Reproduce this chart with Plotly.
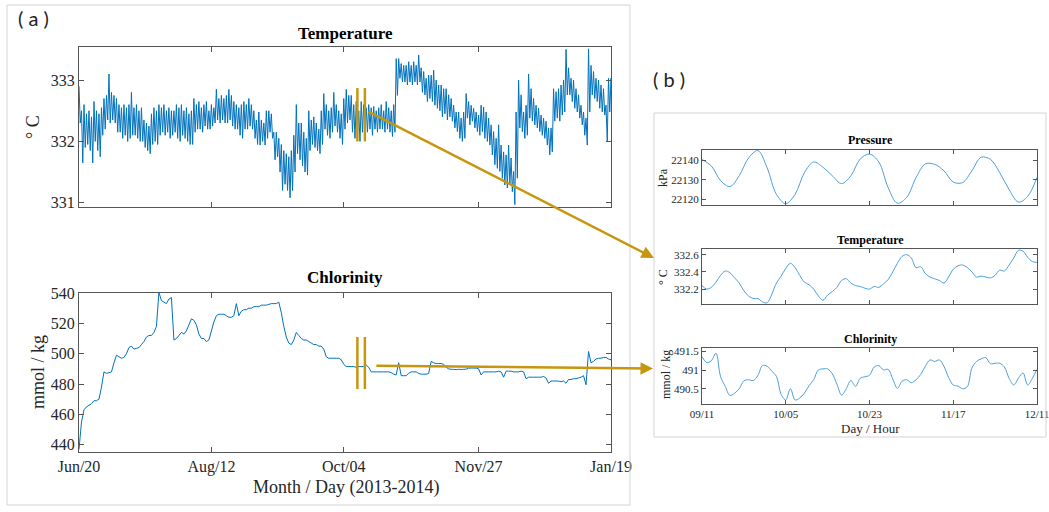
import pandas as pd
import plotly.graph_objects as go

W, H = 1049, 512

# ---------------- data: panel (a), daily records from 2013-06-20 ----------------
series_start = "2013-06-20"
series_end = "2014-01-19"
month_ticks = ["2013-06-20", "2013-08-12", "2013-10-04", "2013-11-27", "2014-01-19"]
month_labels = ["Jun/20", "Aug/12", "Oct/04", "Nov/27", "Jan/19"]

# daily maximum and minimum temperature (deg C)
temp_hi = [
    332.9, 332.5, 332.6, 332.45, 332.5, 332.4, 332.65, 332.5, 332.45, 332.55,
    332.7, 332.75, 333.1, 332.8, 332.75, 332.7, 332.6, 332.55, 332.6, 332.55,
    332.6, 332.8, 332.55, 332.6, 332.5, 332.55, 332.35, 332.3, 332.25, 332.45,
    332.55, 332.5, 332.6, 332.55, 332.6, 332.5, 332.55, 332.5, 332.5, 332.6,
    332.55, 332.6, 332.5, 332.55, 332.45, 332.5, 332.7, 332.6, 332.65, 332.55,
    332.6, 332.65, 332.5, 332.6, 332.55, 332.85, 332.7, 332.75, 332.7, 332.75,
    332.85, 332.75, 332.65, 332.6, 332.55, 332.6, 332.65, 332.6, 332.7, 332.6,
    332.5, 332.35, 332.48, 332.35, 332.3, 332.5, 332.5, 332.45, 332.15, 332.15,
    332.05, 331.95, 331.85, 331.8, 331.75, 331.85, 332.1, 332.6, 332.3, 332.3,
    332.15, 332.05, 332.5, 332.35, 332.4, 332.3, 332.2, 332.5, 332.78, 332.6,
    332.5, 332.55, 332.8, 332.6, 332.5, 332.45, 332.7, 332.85, 332.75, 332.75,
    332.6, 332.65, 332.5, 332.65, 332.6, 332.55, 332.6, 332.55, 332.57, 332.5,
    332.55, 332.6, 332.5, 332.65, 332.55, 332.5, 332.6, 333.35, 333.35, 333.27,
    333.24, 333.24, 333.3, 333.24, 333.3, 333.24, 333.41, 333.2, 333.14, 333.03,
    333.08, 333.08, 333.16, 333.0, 332.92, 332.92, 332.86, 332.86, 332.76, 332.7,
    332.59, 332.48, 332.48, 332.38, 332.48, 332.78, 332.65, 332.59, 332.54, 332.48,
    332.43, 332.59, 332.56, 332.48, 332.38, 332.27, 332.16, 332.05, 332.27, 331.94,
    331.83, 331.78, 331.94, 331.73, 331.51, 332.48, 333.0, 332.76, 332.48, 332.59,
    333.1, 332.86, 332.7, 332.59, 332.54, 332.43, 332.38, 332.33, 332.22, 332.22,
    332.86, 332.81, 332.86, 332.92, 333.0, 333.5, 333.2, 333.03, 333.0, 332.86,
    332.76, 332.59, 332.48, 332.38, 333.51, 333.24, 333.14, 333.03, 333.0, 332.92,
    332.86, 332.59, 333.03, 333.03,
]
temp_lo = [
    332.3, 331.65, 331.9, 331.95, 331.85, 331.65, 332.0, 331.85, 331.75, 332.1,
    332.2, 332.35, 332.3, 332.35, 332.3, 332.15, 332.15, 332.05, 332.1, 332.0,
    332.05, 332.1, 332.1, 332.05, 332.0, 332.0, 331.9, 331.85, 331.8, 331.95,
    332.0, 331.95, 332.1, 332.15, 332.1, 332.15, 332.05, 332.1, 332.15, 332.05,
    332.0, 332.1, 332.05, 332.0, 331.95, 331.95, 332.15, 332.2, 332.2, 332.15,
    332.25, 332.2, 332.2, 332.25, 332.3, 332.35, 332.3, 332.35, 332.3, 332.3,
    332.35, 332.25, 332.2, 332.2, 332.1, 332.05, 332.2, 332.2, 332.25, 332.2,
    332.05, 331.95, 331.94, 332.0, 331.94, 332.05, 332.15, 332.05, 331.7, 331.75,
    331.5, 331.2, 331.3, 331.2, 331.08, 331.2, 331.5, 331.8, 331.7, 331.6,
    331.5, 331.45, 331.85, 331.95, 331.9, 331.85, 331.8, 331.95, 332.2, 332.1,
    332.05, 332.15, 332.25, 332.15, 332.05, 331.95, 332.2, 332.3, 332.35, 332.15,
    332.05, 332.1, 332.0, 332.15, 332.2, 332.15, 332.2, 332.1, 332.2, 332.15,
    332.2, 332.2, 332.15, 332.2, 332.15, 332.08, 332.15, 332.75, 333.03, 332.97,
    332.97, 332.92, 332.97, 332.92, 332.97, 332.92, 332.97, 332.8, 332.76, 332.65,
    332.7, 332.65, 332.59, 332.54, 332.5, 332.4, 332.45, 332.35, 332.4, 332.33,
    332.22, 332.16, 332.05, 332.0, 332.05, 332.38, 332.27, 332.33, 332.22, 332.16,
    332.1, 332.16, 332.05, 332.0, 331.94, 331.78, 331.62, 331.56, 331.51, 331.4,
    331.29, 331.24, 331.29, 331.18, 330.97, 331.4, 332.22, 332.16, 332.05, 332.1,
    332.38, 332.33, 332.27, 332.22, 332.16, 332.1, 332.05, 331.94, 331.78, 331.83,
    332.33, 332.38, 332.33, 332.43, 332.48, 332.76, 332.76, 332.65, 332.54, 332.48,
    332.38, 332.27, 332.1, 331.94, 332.48, 332.76, 332.7, 332.65, 332.54, 332.48,
    332.43, 332.0, 332.48, 332.59,
]
# daily chlorinity (mmol / kg)
chlorinity = [
    437, 455, 463, 465, 466, 467, 469, 469, 470, 478,
    488, 487, 487.5, 488, 494, 499, 498, 497, 497.5, 500,
    504, 505, 503, 503.5, 504, 506, 508, 511, 512, 512,
    514, 518, 540.5, 535, 534, 533, 536, 537, 509, 510,
    512, 514, 513, 515, 519, 523, 522, 519, 513, 510,
    510, 508, 509, 515, 521, 525, 526, 526, 526, 525,
    524, 524, 525, 533, 525, 528, 529, 529, 530, 530,
    531, 531, 531, 532, 532, 532, 532.5, 533, 533, 533,
    534, 527, 518, 511, 507, 506, 509, 514, 512, 510,
    509, 509, 508, 507, 506, 506, 505, 505, 503, 498,
    497, 497, 497, 497, 497, 496, 493, 491.5, 491.5, 491.5,
    491.5, 491, 491.5, 491.5, 491.5, 492.5, 491, 488, 488, 488,
    488, 488, 488, 488, 488, 487.5, 486.5, 486, 494, 485.5,
    485.5, 485.5, 487, 488, 488, 488, 487, 486.5, 486.5, 486.5,
    487, 495, 494, 493.5, 493.5, 493.5, 493, 491, 490, 489.7,
    489.7, 489.5, 489.7, 489.6, 489.7, 489.8, 490.5, 490.5, 490.5, 490.5,
    490, 486, 488, 488, 488, 488, 488, 488, 488.5, 488,
    484.5, 488.5, 488.5, 488.5, 488, 488, 488, 488.5, 488, 483.5,
    484.5, 484.5, 484.5, 484.5, 484.5, 484.5, 485, 484, 480.5, 482,
    482, 482, 482, 481.5, 482, 480.5, 483, 483, 483.5, 483.5,
    484, 484.5, 485.5, 479.5, 501.5, 494, 495, 496.5, 497, 497,
    497.5, 497.5, 496.5, 496,
]

# ---------------- data: panel (b), hourly records from day 09 11:00 ----------------
window_start = "2013-10-09 11:00"
window_hours = 72
hour_ticks = [0, 18, 36, 54, 72]
hour_labels = ["09/11", "10/05", "10/23", "11/17", "12/11"]

pressure_hours = list(range(0, 73, 2))
pressure = [
    22140.3, 22137.0, 22129.5, 22126.5, 22132.0, 22141.0, 22144.8, 22136.0,
    22122.5, 22117.8, 22122.5, 22133.5, 22139.0, 22136.3, 22132.0, 22128.0,
    22132.0, 22140.5, 22143.0, 22139.0, 22126.0, 22118.0, 22121.0, 22131.0,
    22138.0, 22137.8, 22134.5, 22128.8, 22128.5, 22134.5, 22141.4, 22140.3,
    22133.5, 22125.0, 22118.6, 22121.5, 22131.2,
]
pressure_ticks = [22120, 22130, 22140]
hours = list(range(0, 73))
temp_window = [
    332.24, 332.20, 332.22, 332.28, 332.36, 332.41, 332.39, 332.33, 332.27, 332.18,
    332.12, 332.09, 332.09, 332.05, 332.04, 332.14, 332.27, 332.35, 332.44, 332.50,
    332.45, 332.36, 332.28, 332.25, 332.20, 332.12, 332.07, 332.13, 332.17, 332.22,
    332.30, 332.32, 332.27, 332.24, 332.23, 332.21, 332.20, 332.23, 332.22, 332.26,
    332.31, 332.40, 332.50, 332.58, 332.60, 332.56, 332.45, 332.46, 332.38, 332.34,
    332.32, 332.30, 332.27, 332.34, 332.43, 332.47, 332.48, 332.45, 332.40, 332.34,
    332.35, 332.34, 332.33, 332.36, 332.42, 332.41, 332.48, 332.56, 332.65, 332.64,
    332.57, 332.52, 332.51,
]
chl_window = [
    491.36, 491.20, 491.25, 491.45, 490.82, 490.56, 490.32, 490.38, 490.50, 490.71,
    490.74, 490.72, 490.85, 491.12, 491.10, 490.97, 490.83, 490.35, 490.20, 490.50,
    490.20, 490.25, 490.38, 490.58, 490.74, 491.00, 491.03, 491.03, 490.90, 490.62,
    490.33, 490.50, 490.72, 490.56, 490.78, 490.82, 490.86, 491.08, 491.12, 491.00,
    491.02, 490.76, 490.51, 490.70, 490.74, 490.66, 490.74, 490.88, 491.10, 491.27,
    491.23, 491.27, 491.10, 490.80, 490.60, 490.57, 490.50, 490.55, 491.05, 491.23,
    491.30, 491.33, 491.17, 491.18, 491.18, 491.08, 490.78, 490.60, 490.78, 490.92,
    490.60, 490.78, 491.02,
]

# ---------------- helpers ----------------
def fx(p):
    return p / W


def fy(p):
    return 1 - p / H


BLUE_A = "#0072BD"
BLUE_B = "#4AA0DE"
GOLD = "#C6960E"
AXIS = "#555555"
TXT = "#262626"
SERIF = "Liberation Serif"

t0 = pd.Timestamp(series_start)
day_index = pd.date_range(t0, periods=len(temp_hi), freq="D")
temp_x, temp_y = [], []
for d, hi, lo in zip(day_index, temp_hi, temp_lo):
    temp_x += [d, d + pd.Timedelta(hours=12)]
    temp_y += [hi, lo]

fig = go.Figure()
fig.add_trace(go.Scatter(x=temp_x, y=temp_y, mode="lines",
                         line=dict(color=BLUE_A, width=1, simplify=False),
                         xaxis="x", yaxis="y"))
fig.add_trace(go.Scatter(x=day_index, y=chlorinity, mode="lines",
                         line=dict(color=BLUE_A, width=1, simplify=False),
                         xaxis="x2", yaxis="y2"))
fig.add_trace(go.Scatter(x=pressure_hours, y=pressure, mode="lines",
                         line=dict(color=BLUE_B, width=1, shape="spline"),
                         xaxis="x3", yaxis="y3"))
fig.add_trace(go.Scatter(x=hours, y=temp_window, mode="lines",
                         line=dict(color=BLUE_B, width=1, shape="spline"),
                         xaxis="x4", yaxis="y4"))
fig.add_trace(go.Scatter(x=hours, y=chl_window, mode="lines",
                         line=dict(color=BLUE_B, width=1, shape="spline"),
                         xaxis="x5", yaxis="y5"))

# axis layout (pixel boxes)
A_X = (79, 611)
A_TEMP_Y = (47, 207)
A_CHL_Y = (293, 452)
B_X = (702, 1037)
B_P_Y = (150, 205)
B_T_Y = (249, 304)
B_C_Y = (348, 404)

temp_range = [330.93, 333.54]
chl_range = [435.2, 540.0]


def xdom(px):
    return [fx(px[0]), fx(px[1])]


def ydom(py):
    return [fy(py[1]), fy(py[0])]


def axis_common(size):
    return dict(showline=True, linecolor=AXIS, linewidth=1, mirror="ticks",
                ticks="inside", ticklen=4 if size < 14 else 5, tickcolor=AXIS,
                showgrid=False, zeroline=False, automargin=False,
                ticklabeloverflow="allow",
                tickfont=dict(family=SERIF, size=size, color=TXT))


fig.update_layout(
    width=W, height=H,
    margin=dict(l=0, r=0, t=0, b=0, pad=0, autoexpand=False),
    paper_bgcolor="white", plot_bgcolor="white", showlegend=False,
    xaxis=dict(domain=xdom(A_X), anchor="y", type="date",
               range=[series_start, series_end], tickvals=month_ticks,
               showticklabels=False, **axis_common(16)),
    yaxis=dict(domain=ydom(A_TEMP_Y), anchor="x", range=temp_range,
               tickvals=[331, 332, 333], **axis_common(16)),
    xaxis2=dict(domain=xdom(A_X), anchor="y2", type="date",
                range=[series_start, series_end], tickvals=month_ticks,
                ticktext=month_labels, **axis_common(16)),
    yaxis2=dict(domain=ydom(A_CHL_Y), anchor="x2", range=chl_range,
                tickvals=[440, 460, 480, 500, 520, 540], **axis_common(16)),
    xaxis3=dict(domain=xdom(B_X), anchor="y3", range=[0, window_hours],
                tickvals=hour_ticks, showticklabels=False, **axis_common(11)),
    yaxis3=dict(domain=ydom(B_P_Y), anchor="x3", range=[22117.1, 22145.1],
                tickvals=pressure_ticks, ticktext=[str(v) for v in pressure_ticks],
                **axis_common(11)),
    xaxis4=dict(domain=xdom(B_X), anchor="y4", range=[0, window_hours],
                tickvals=hour_ticks, showticklabels=False, **axis_common(11)),
    yaxis4=dict(domain=ydom(B_T_Y), anchor="x4", range=[332.026, 332.666],
                tickvals=[332.2, 332.4, 332.6], ticktext=["332.2", "332.4", "332.6"],
                **axis_common(11)),
    xaxis5=dict(domain=xdom(B_X), anchor="y5", range=[0, window_hours],
                tickvals=hour_ticks, ticktext=hour_labels, **axis_common(11)),
    yaxis5=dict(domain=ydom(B_C_Y), anchor="x5", range=[490.09, 491.59],
                tickvals=[490.5, 491, 491.5], ticktext=["490.5", "491", "491.5"],
                **axis_common(11)),
)

# ---------------- panel frames ----------------
shapes = [
    dict(type="rect", xref="paper", yref="paper", x0=fx(7), x1=fx(630),
         y0=fy(505), y1=fy(5), line=dict(color="#d4d4d4", width=1)),
    dict(type="rect", xref="paper", yref="paper", x0=fx(654), x1=fx(1046),
         y0=fy(437), y1=fy(113), line=dict(color="#d4d4d4", width=1)),
]

# zoom window markers on panel (a)
w0 = pd.Timestamp(window_start)
w1 = w0 + pd.Timedelta(hours=window_hours)
for ts in (w0, w1):
    shapes.append(dict(type="line", xref="x", yref="y", x0=ts, x1=ts,
                       y0=332.0, y1=332.87, line=dict(color=GOLD, width=2.5)))
    shapes.append(dict(type="line", xref="x2", yref="y2", x0=ts, x1=ts,
                       y0=476.7, y1=511.0, line=dict(color=GOLD, width=2.5)))
fig.update_layout(shapes=shapes)

# pixel position of the window end on panel (a)
span_days = (pd.Timestamp(series_end) - t0).total_seconds() / 86400
w1_px = A_X[0] + (w1 - t0).total_seconds() / 86400 / span_days * (A_X[1] - A_X[0])


def val_to_py(v, rng, box):
    return box[0] + (rng[1] - v) / (rng[1] - rng[0]) * (box[1] - box[0])


tail1 = (w1_px + 2, val_to_py(332.5, temp_range, A_TEMP_Y))
head1 = (654, 258)
tail2 = (w1_px + 10, val_to_py(492.0, chl_range, A_CHL_Y))
head2 = (653, 368.5)

ann = []
for tail, head in ((tail1, head1), (tail2, head2)):
    ann.append(dict(x=fx(head[0]), y=fy(head[1]), xref="paper", yref="paper",
                    ax=tail[0] - head[0], ay=tail[1] - head[1], text="",
                    showarrow=True, arrowhead=2, arrowsize=1.0, arrowwidth=2.5,
                    arrowcolor=GOLD))


def label(text, x, y, size, bold=False, angle=0, family=SERIF, color="#000"):
    ann.append(dict(x=fx(x), y=fy(y), xref="paper", yref="paper",
                    text=f"<b>{text}</b>" if bold else text, showarrow=False,
                    textangle=angle, xanchor="center", yanchor="middle",
                    font=dict(family=family, size=size, color=color)))


label("( a )", 33, 18, 20, family="Lato", color="#222")
label("( b )", 669, 79, 20, family="Lato", color="#222")
label("Temperature", 345, 33, 17, bold=True)
label("Chlorinity", 345, 277, 17, bold=True)
label("° C", 33, 127, 18, angle=-90, color=TXT)
label("mmol / kg", 38, 372, 18, angle=-90, color=TXT)
label("Month / Day (2013-2014)", 346, 487, 18, color=TXT)
label("Pressure", 870, 140, 12, bold=True)
label("Temperature", 870, 240, 12, bold=True)
label("Chlorinity", 870, 339, 12, bold=True)
label("kPa", 663, 178, 12, angle=-90, color=TXT)
label("° C", 663, 277, 12, angle=-90, color=TXT)
label("mmol / kg", 666, 375, 12, angle=-90, color=TXT)
label("Day / Hour", 870, 428, 13, color=TXT)
fig.update_layout(annotations=ann)

fig.write_html("out.html")
